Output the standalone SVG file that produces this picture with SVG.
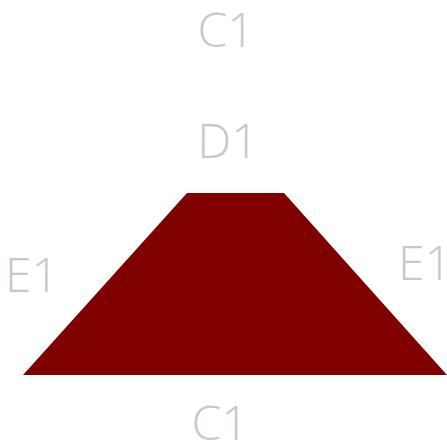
<svg xmlns="http://www.w3.org/2000/svg" width="447" height="443" viewBox="0 0 447 443">
<style>
.lbl{font-family:"Open Sans","DejaVu Sans",sans-serif;font-weight:300;font-size:48px;fill:#c8c8c8;text-anchor:middle}
</style>
<rect width="447" height="443" fill="#fff"/>
<g id="shape">
<polygon points="187,193 284,193 447,375 23,375" fill="#800000"/>
</g>
<g id="labels">
<text class="lbl" x="226" y="47">C1</text>
<text class="lbl" x="228" y="158">D1</text>
<text class="lbl" x="32" y="292">E1</text>
<text class="lbl" x="425" y="280">E1</text>
<text class="lbl" x="220" y="440">C1</text>
</g>
</svg>
